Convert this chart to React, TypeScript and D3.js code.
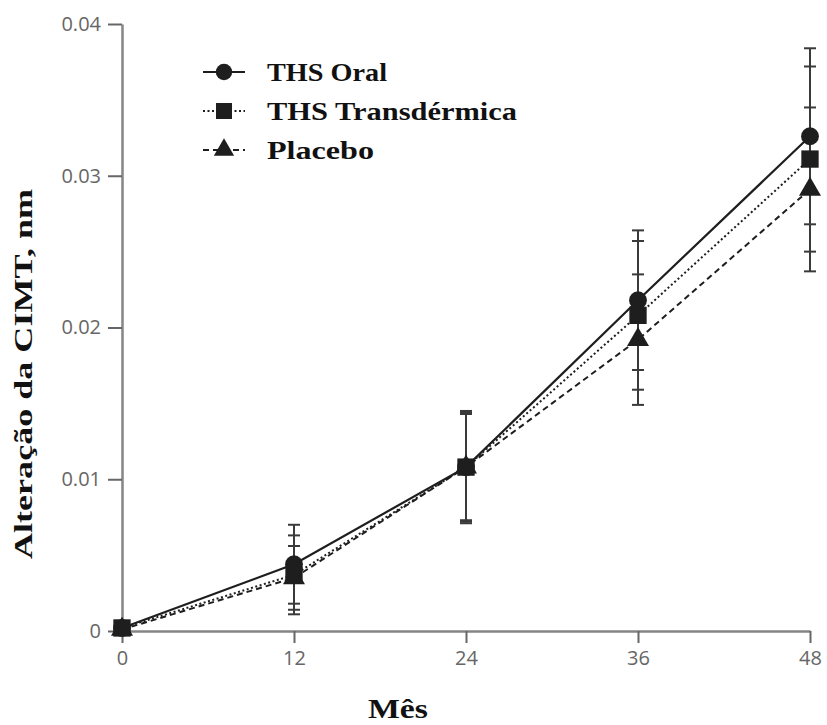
import * as d3 from 'd3';
import React, { useEffect, useRef } from 'react';

const months = [0, 12, 24, 36, 48];
const oralValues = [0.0002, 0.0044, 0.0108, 0.0218, 0.0326];
const oralErrors = [0, 0.0026, 0.0036, 0.0046, 0.0058];
const transValues = [0.0002, 0.0037, 0.0108, 0.0208, 0.0311];
const transErrors = [0, 0.0026, 0.0035, 0.0049, 0.0061];
const placeboValues = [0.0001, 0.0035, 0.0108, 0.0192, 0.0291];
const placeboErrors = [0, 0.0021, 0.0037, 0.0043, 0.0054];
const yTicks = [0, 0.01, 0.02, 0.03, 0.04];
const yTickLabels = ['0', '0.01', '0.02', '0.03', '0.04'];

const seriesList = [
  { name: 'THS Oral', values: oralValues, errors: oralErrors, dash: null as string | null, symbol: d3.symbolCircle, size: 250, textW: 120 },
  { name: 'THS Transdérmica', values: transValues, errors: transErrors, dash: '2,2.5', symbol: d3.symbolSquare, size: 300, textW: 250 },
  { name: 'Placebo', values: placeboValues, errors: placeboErrors, dash: '6,4', symbol: d3.symbolTriangle, size: 210, textW: 107 },
];

const W = 827;
const H = 725;
const margin = { top: 24, right: 17, bottom: 94, left: 122 };
const serif = '"Liberation Serif", "Times New Roman", serif';

export default function App() {
  const svgRef = useRef<SVGSVGElement | null>(null);

  useEffect(() => {
    if (!svgRef.current) return;
    const svg = d3.select(svgRef.current);
    svg.selectAll('*').remove();

    const innerW = W - margin.left - margin.right;
    const innerH = H - margin.top - margin.bottom;

    const x = d3.scaleLinear().domain([0, 48]).range([0, innerW]);
    const y = d3.scaleLinear().domain([0, 0.04]).range([innerH, 0]);

    const g = svg.append('g').attr('transform', `translate(${margin.left},${margin.top})`);
    const axisColor = '#858585';
    const ink = '#1e1e1e';

    // axes
    const xAxis = g.append('g')
      .attr('transform', `translate(0,${innerH})`)
      .call(d3.axisBottom(x).tickValues(months).tickSize(12).tickSizeOuter(0).tickPadding(7).tickFormat(d3.format('d')));
    const yAxis = g.append('g')
      .call(d3.axisLeft(y).tickValues(yTicks).tickSize(14).tickSizeOuter(0).tickPadding(7)
        .tickFormat((d, i) => yTickLabels[i]));

    [xAxis, yAxis].forEach(ax => {
      ax.attr('font-size', null);
      ax.select('.domain').attr('stroke', axisColor).attr('stroke-width', 2.5);
      ax.selectAll('.tick line').attr('stroke', '#666').attr('stroke-width', 2);
      ax.selectAll('.tick text')
        .attr('fill', '#666')
        .style('font-family', '"Open Sans", "Noto Sans", sans-serif')
        .style('font-size', '20px');
    });
    xAxis.selectAll('.tick text').attr('dy', '0.75em');

    const line = d3.line<number>()
      .x((d, i) => x(months[i]))
      .y(d => y(d));

    // lines
    seriesList.slice().reverse().forEach(s => {
      g.append('path')
        .attr('d', line(s.values))
        .attr('fill', 'none')
        .attr('stroke', ink)
        .attr('stroke-width', s.dash ? 2 : 2.2)
        .attr('stroke-dasharray', s.dash ?? null);
    });

    // error bars
    seriesList.forEach(s => {
      s.values.forEach((v, i) => {
        if (!s.errors[i]) return;
        const cx = x(months[i]);
        g.append('line')
          .attr('x1', cx).attr('x2', cx)
          .attr('y1', y(v - s.errors[i])).attr('y2', y(v + s.errors[i]))
          .attr('stroke', '#3a3a3a').attr('stroke-width', 2);
        [v - s.errors[i], v + s.errors[i]].forEach(e => {
          g.append('line')
            .attr('x1', cx - 6).attr('x2', cx + 6)
            .attr('y1', y(e)).attr('y2', y(e))
            .attr('stroke', '#3a3a3a').attr('stroke-width', 2);
        });
      });
    });

    // markers
    [seriesList[2], seriesList[0], seriesList[1]].forEach(s => {
      g.selectAll(null)
        .data(s.values)
        .enter()
        .append('path')
        .attr('d', d3.symbol().type(s.symbol).size(s.size)())
        .attr('transform', (d, i) => `translate(${x(months[i])},${y(d)})`)
        .attr('fill', ink);
    });

    // legend
    const legend = svg.append('g').attr('transform', 'translate(203,72)');
    seriesList.forEach((s, i) => {
      const row = legend.append('g').attr('transform', `translate(0,${i * 39})`);
      row.append('line')
        .attr('x1', 0).attr('x2', 42)
        .attr('stroke', ink).attr('stroke-width', 2)
        .attr('stroke-dasharray', s.dash ?? null);
      row.append('path')
        .attr('d', d3.symbol().type(s.symbol).size(s.size * 0.85)())
        .attr('transform', 'translate(21,0)')
        .attr('fill', ink);
      row.append('text')
        .attr('x', 64).attr('y', 9)
        .attr('fill', '#111')
        .attr('textLength', s.textW)
        .attr('lengthAdjust', 'spacingAndGlyphs')
        .style('font-family', serif)
        .style('font-weight', 'bold')
        .style('font-size', '25px')
        .text(s.name);
    });

    // axis titles
    svg.append('text')
      .attr('transform', 'translate(32,374) rotate(-90)')
      .attr('text-anchor', 'middle')
      .attr('fill', '#111')
      .attr('textLength', 370)
      .attr('lengthAdjust', 'spacingAndGlyphs')
      .style('font-family', serif)
      .style('font-weight', 'bold')
      .style('font-size', '25px')
      .text('Alteração da CIMT, nm');

    svg.append('text')
      .attr('x', 398).attr('y', 718)
      .attr('text-anchor', 'middle')
      .attr('fill', '#111')
      .attr('textLength', 60)
      .attr('lengthAdjust', 'spacingAndGlyphs')
      .style('font-family', serif)
      .style('font-weight', 'bold')
      .style('font-size', '28px')
      .text('Mês');
  }, []);

  return (
    <svg
      ref={svgRef}
      width={W}
      height={H}
      style={{ position: 'absolute', left: 0, top: 0, background: '#fff' }}
    />
  );
}
